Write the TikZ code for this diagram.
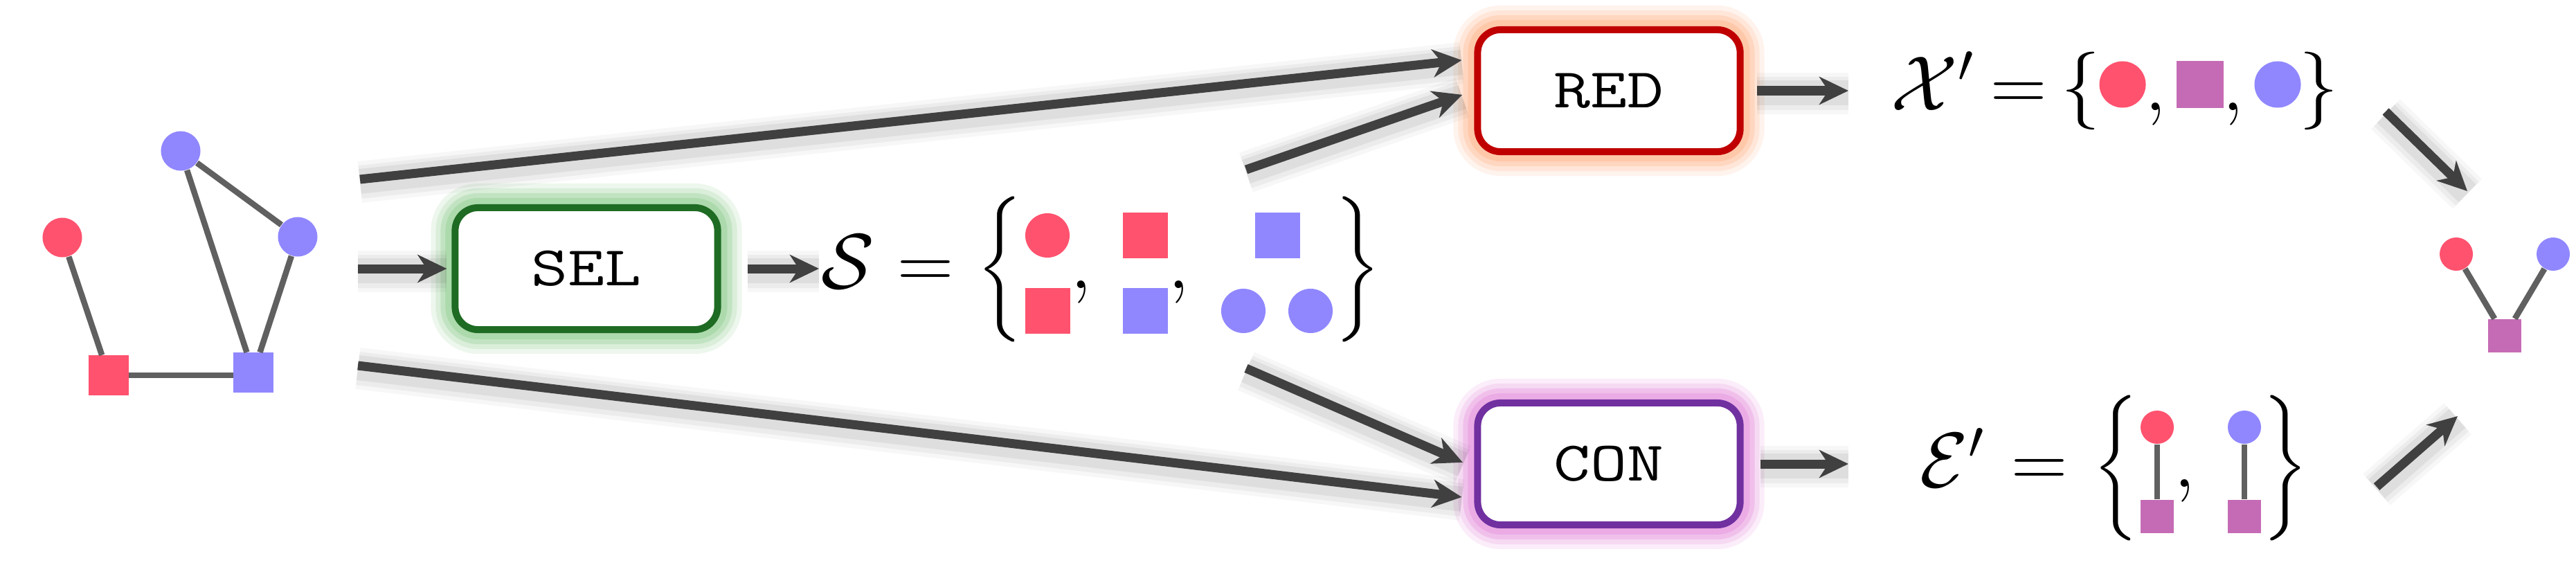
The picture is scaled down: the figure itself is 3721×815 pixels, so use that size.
\RequirePackage{fix-cm}
\documentclass[tikz,border=0pt]{standalone}
\usepackage{amsmath}
\usepackage{graphicx}
\usepackage{fontspec}
\usetikzlibrary{arrows.meta}
\definecolor{cred}{HTML}{FF526E}
\definecolor{cpur}{HTML}{9087FF}
\definecolor{cmag}{HTML}{C56BB5}
\definecolor{cedge}{HTML}{606060}
\definecolor{carr}{HTML}{404040}
\definecolor{selb}{HTML}{1E6B23}
\definecolor{selg}{HTML}{9ED39E}
\definecolor{redb}{HTML}{C00000}
\definecolor{redg}{HTML}{FFBE9A}
\definecolor{conb}{HTML}{7030A0}
\definecolor{cong}{HTML}{E89CE0}
\newcommand\boxtxt[1]{\scalebox{1.27}[1]{#1}}
\tikzset{
  vc/.style={circle, fill=#1, draw=none, inner sep=0pt, minimum size=0.57cm},
  vs/.style={rectangle, fill=#1, draw=none, inner sep=0pt, minimum size=0.57cm},
  gedge/.style={draw=cedge, line width=0.085cm},
  arr/.style={draw=carr, line width=0.13cm,
    -{Stealth[length=0.42cm,width=0.40cm,inset=0.13cm]},
    preaction={draw=black, arrows=-, line width=0.60cm, opacity=0.03, transform canvas={yshift=-0.04cm}},
    preaction={draw=black, arrows=-, line width=0.48cm, opacity=0.045, transform canvas={yshift=-0.04cm}},
    preaction={draw=black, arrows=-, line width=0.36cm, opacity=0.06, transform canvas={yshift=-0.03cm}}},
  box/.style={draw=#1, line width=0.1cm, rounded corners=0.33cm, fill=white,
    minimum width=3.79cm, minimum height=1.76cm, inner sep=0pt,
    font=\fontsize{23}{28}\selectfont\ttfamily},
  glow/.style={preaction={draw=#1, line width=0.70cm, opacity=0.18},
    preaction={draw=#1, line width=0.56cm, opacity=0.25},
    preaction={draw=#1, line width=0.42cm, opacity=0.4},
    preaction={draw=#1, line width=0.28cm, opacity=0.6}},
  mt/.style={inner sep=0pt, font=\fontsize{32}{38}\selectfont},
}
\begin{document}
\begin{tikzpicture}[x=0.01cm, y=-0.01cm]
\useasboundingbox (0,0) rectangle (3721,815);
% left graph
\node[vc=cred] (g1) at (90,343) {};
\node[vc=cpur] (g2) at (261,218) {};
\node[vc=cpur] (g3) at (430,342) {};
\node[vs=cred] (g4) at (157,542) {};
\node[vs=cpur] (g5) at (366,538) {};
\draw[gedge] (g1) -- (g4);
\draw[gedge] (g2) -- (g5);
\draw[gedge] (g2) -- (g3);
\draw[gedge] (g3) -- (g5);
\draw[gedge] (g4.east) -- (g4.east -| g5.west);
% boxes
\node[box=selb, glow=selg] (sel) at (847,388) {\boxtxt{SEL}};
\node[box=redb, glow=redg] (red) at (2324,131) {\boxtxt{RED}};
\node[box=conb, glow=cong] (con) at (2324,670) {\boxtxt{CON}};
% S set
\node[mt, anchor=base] (Slab) at (1225,416) {$\mathcal{S}$};
\node[mt, anchor=base] (Seq) at (1337,416) {$=$};
\node[mt] (Slb) at (1444,389) {$\Bigl\{$};
\node[mt] (Srb) at (1961,389) {$\Bigr\}$};
\node[vc=cred, minimum size=0.64cm] (s1) at (1513,340) {};
\node[vs=cred, minimum size=0.65cm] (s2) at (1654,340) {};
\node[vs=cpur, minimum size=0.65cm] (s3) at (1845,340) {};
\node[vs=cred, minimum size=0.65cm] (s4) at (1513,449) {};
\node[vs=cpur, minimum size=0.65cm] (s5) at (1654,449) {};
\node[vc=cpur, minimum size=0.64cm] (s6) at (1796,449) {};
\node[vc=cpur, minimum size=0.64cm] (s7) at (1893,449) {};
\node[mt, anchor=base] (sc1) at (1562,416) {$,$};
\node[mt, anchor=base] (sc2) at (1703,416) {$,$};
% X' set
\node[mt, anchor=base] (Xlab) at (2792,159) {$\mathcal{X}'$};
\node[mt, anchor=base] (Xeq) at (2916,159) {$=$};
\node[mt] (Xlb) at (3006,131) {$\{$};
\node[mt] (Xrb) at (3350,131) {$\}$};
\node[vc=cred, minimum size=0.67cm] (x1) at (3066,122) {};
\node[vs=cmag, minimum size=0.68cm] (x2) at (3178,122) {};
\node[vc=cpur, minimum size=0.67cm] (x3) at (3290,122) {};
\node[mt, anchor=base] (xc1) at (3114,159) {$,$};
\node[mt, anchor=base] (xc2) at (3226,159) {$,$};
% E' set
\node[mt, anchor=base] (Elab) at (2820,703) {$\mathcal{E}'$};
\node[mt, anchor=base] (Eeq) at (2946,703) {$=$};
\node[mt] (Elb) at (3056,676) {$\Bigl\{$};
\node[mt] (Erb) at (3301,676) {$\Bigr\}$};
\node[vc=cred, minimum size=0.48cm] (e1c) at (3116,617) {};
\node[vs=cmag, minimum size=0.48cm] (e1s) at (3116,746) {};
\node[vc=cpur, minimum size=0.48cm] (e2c) at (3242,617) {};
\node[vs=cmag, minimum size=0.48cm] (e2s) at (3242,746) {};
\draw[gedge] (e1c) -- (e1s);
\draw[gedge] (e2c) -- (e2s);
\node[mt, anchor=base] (ec1) at (3156,703) {$,$};
% right graph
\node[vc=cred, minimum size=0.48cm] (h1) at (3548,367) {};
\node[vc=cpur, minimum size=0.48cm] (h2) at (3688,367) {};
\node[vs=cmag, minimum size=0.48cm] (h3) at (3618,485) {};
\draw[gedge] (h1) -- (h3);
\draw[gedge] (h2) -- (h3);
% arrow coordinates
\coordinate (a1s) at (520,259);
\coordinate (a2s) at (517,388);
\coordinate (a3s) at (517,528);
\coordinate (a4e) at (1183,388);
\coordinate (a5s) at (1800,245);
\coordinate (a6s) at (1800,532);
\coordinate (a7e) at (2670,131);
\coordinate (a8e) at (2670,670);
\coordinate (a9s) at (3446,161);
\coordinate (a9e) at (3564,276);
\coordinate (a10s) at (3433,703);
\coordinate (a10e) at (3550,601);
% arrows
\draw[arr, shorten >=0.18cm] (a1s) -- ([yshift=0.46cm]red.west);
\draw[arr, shorten >=0.07cm] (a2s) -- (sel.west);
\draw[arr, shorten >=0.18cm] (a3s) -- ([yshift=-0.5cm]con.west);
\draw[arr] ([xshift=0.38cm]sel.east) -- (a4e);
\draw[arr, shorten >=0.18cm] (a5s) -- (red.west);
\draw[arr, shorten >=0.18cm] (a6s) -- ([yshift=-0.05cm]con.west);
\draw[arr] ([xshift=0.19cm]red.east) -- (a7e);
\draw[arr] ([xshift=0.24cm]con.east) -- (a8e);
\draw[arr] (a9s) -- (a9e);
\draw[arr] (a10s) -- (a10e);
\end{tikzpicture}
\end{document}
